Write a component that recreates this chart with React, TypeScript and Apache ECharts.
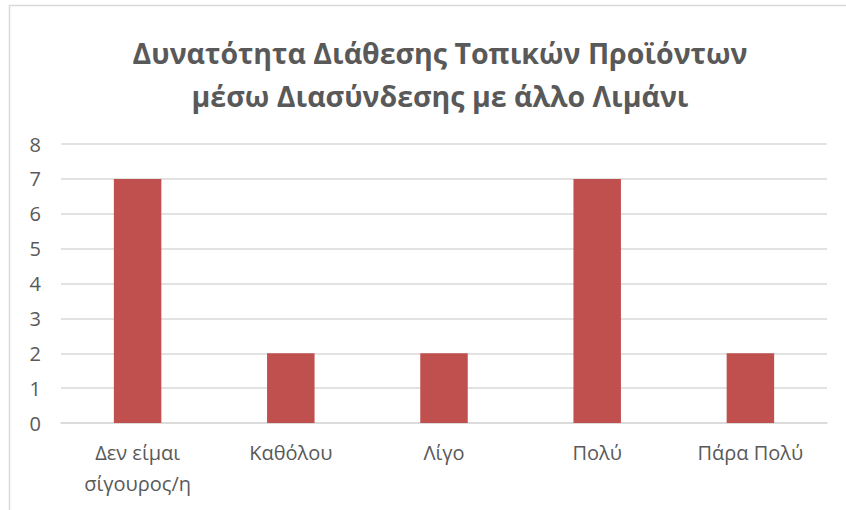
import React, { useEffect, useRef } from "react";
import * as echarts from "echarts";

const titleLines = ["Δυνατότητα Διάθεσης Τοπικών Προϊόντων", "μέσω Διασύνδεσης με άλλο Λιμάνι"];
const categories = ["Δεν είμαι\nσίγουρος/η", "Καθόλου", "Λίγο", "Πολύ", "Πάρα Πολύ"];
const values = [7, 2, 2, 7, 2];
const yMin = 0;
const yMax = 8;
const yStep = 1;

export default function App() {
  const ref = useRef<HTMLDivElement>(null);
  useEffect(() => {
    if (!ref.current) return;
    const chart = echarts.init(ref.current, null, { renderer: "svg" });
    const font = "Open Sans";
    chart.setOption({
      animation: false,
      backgroundColor: "#ffffff",
      textStyle: { fontFamily: font },
      title: {
        text: titleLines.join("\n"),
        left: 435,
        textAlign: "center",
        top: 26,
        textStyle: {
          fontFamily: font,
          fontSize: 28.5,
          fontWeight: "bold",
          color: "#595959",
          lineHeight: 43,
        },
      },
      graphic: [
        {
          type: "rect",
          shape: { x: 9.5, y: 5.5, width: 900, height: 600 },
          style: { fill: "none", stroke: "#d9d9d9", lineWidth: 1.5 },
          silent: true,
        },
      ],
      grid: { left: 61, right: 19, top: 144, bottom: 87, containLabel: false },
      xAxis: {
        type: "category",
        data: categories,
        axisLine: { show: true, lineStyle: { color: "#d9d9d9", width: 1.5 } },
        axisTick: { show: false },
        axisLabel: {
          color: "#595959",
          fontSize: 20,
          fontFamily: font,
          margin: 14,
          lineHeight: 31,
          interval: 0,
        },
      },
      yAxis: {
        type: "value",
        min: yMin,
        max: yMax,
        interval: yStep,
        axisLine: { show: false },
        axisTick: { show: false },
        splitLine: { lineStyle: { color: "#d9d9d9", width: 1.5 } },
        axisLabel: { color: "#595959", fontSize: 20, fontFamily: font, margin: 20 },
      },
      series: [
        {
          type: "bar",
          data: values,
          barWidth: "31%",
          itemStyle: { color: "#c0504d" },
        },
      ],
    });
    return () => chart.dispose();
  }, []);
  return (
    <div
      ref={ref}
      style={{ position: "fixed", left: 0, top: 0, width: 846, height: 510 }}
    />
  );
}
